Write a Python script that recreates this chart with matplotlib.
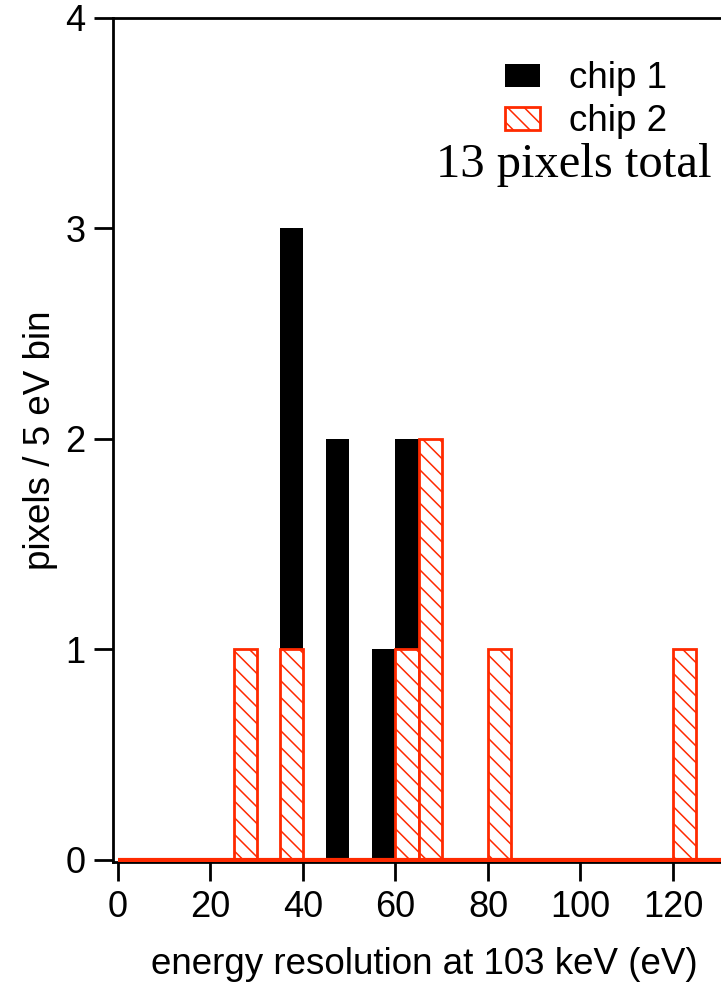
import numpy as np
import matplotlib.pyplot as plt

plt.rcParams['font.family'] = ['Liberation Sans', 'DejaVu Sans']
plt.rcParams['hatch.color'] = '#ff2a00'
plt.rcParams['hatch.linewidth'] = 1.1

# histogram bins: left edge of each 5 eV bin and counts per chip
bin_width = 5
chip1_left = [35, 45, 55, 60]
chip1_counts = [3, 2, 1, 2]
chip2_left = [25, 35, 60, 65, 80, 120]
chip2_counts = [1, 1, 1, 2, 1, 1]

red = '#ff2a00'

fig = plt.figure(figsize=(7.21, 9.82), dpi=100)
ax = fig.add_axes([0.1567, 0.1222, 0.8433 + 0.02, 0.8595])

ax.bar(chip1_left, chip1_counts, width=bin_width, align='edge',
       color='black', edgecolor='none', label='chip 1', zorder=2)
ax.bar(chip2_left, chip2_counts, width=bin_width, align='edge',
       facecolor='white', edgecolor=red, linewidth=2, hatch='\\\\',
       label='chip 2', zorder=3)
ax.plot([0, 135], [0, 0], color=red, linewidth=3, zorder=4, solid_capstyle='butt')

ax.set_xlim(-1.08, 133.5)
ax.set_ylim(-0.01, 4)
ax.set_xticks(np.arange(0, 121, 20))
ax.set_yticks(np.arange(0, 5, 1))
ax.tick_params(axis='both', direction='out', length=14, width=2, labelsize=26, pad=6)
for side in ['left', 'bottom', 'top']:
    ax.spines[side].set_linewidth(2)
ax.spines['right'].set_visible(False)

ax.set_xlabel('energy resolution at 103 keV (eV)', fontsize=26.5, labelpad=16)
ax.set_ylabel('pixels / 5 eV bin', fontsize=26.5, labelpad=5)

leg = ax.legend(loc='upper right', bbox_to_anchor=(0.914, 0.966), frameon=False,
                fontsize=26.5, handlelength=0.95, handleheight=0.57, handletextpad=0.8,
                labelspacing=0.22, borderaxespad=0)
ax.text(0.962, 0.826, '13 pixels total', transform=ax.transAxes, ha='right', va='center',
        fontsize=35, family=['Liberation Serif', 'DejaVu Serif'])

fig.savefig('out.png', dpi=100)
